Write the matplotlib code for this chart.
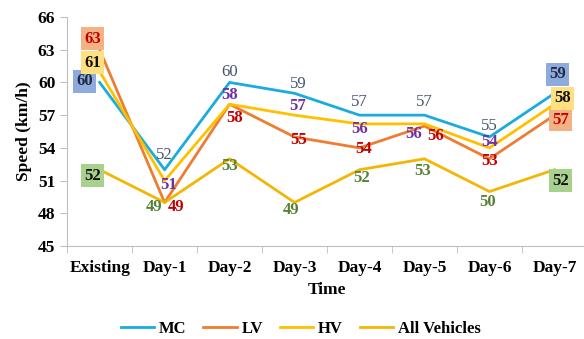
import numpy as np
import matplotlib.pyplot as plt

plt.rcParams['font.family'] = ['Liberation Serif', 'DejaVu Serif']

days = ['Existing', 'Day-1', 'Day-2', 'Day-3', 'Day-4', 'Day-5', 'Day-6', 'Day-7']
mc = [60, 52, 60, 59, 57, 57, 55, 59]
lv = [63, 49, 58, 55, 54, 56, 53, 57]
hv = [61, 51, 58, 57, 56.2, 56.2, 54, 58]
hv_lbl = [61, 51, 58, 57, 56, 56, 54, 58]
allv = [52, 49, 53, 49, 52, 53, 50, 52]

# label offsets in pixels (dx, dy)
off_mc = [(-15, 1), (0, 15), (0, 10), (4, 9), (0, 13), (0, 13), (0, 11), (3, 19)]
off_lv = [(-7, 11), (11, -5), (5, -14), (4, -3), (4, -1), (11, -10), (0, -2), (6, -5)]
off_hv = [(-7, 9), (4, -4), (0, 9), (3, 9), (0, -5), (-11, -10), (0, 6), (8, 6)]
off_av = [(-7, -6), (-11, -5), (0, -7), (-3, -8), (2, -8), (-2, -12), (-2, -10), (6, -11)]

fig = plt.figure(figsize=(5.84, 3.39), dpi=100)
ax = fig.add_axes([0.115, 0.274, 0.89, 0.676])
x = np.arange(len(days))

series = [
    ('MC', mc, mc, '#1AACDC', off_mc, '#44546A', 'normal', '#8FAADC', '#1F2A44'),
    ('LV', lv, lv, '#ED7D31', off_lv, '#C00000', 'bold', '#F4B183', '#C00000'),
    ('HV', hv, hv_lbl, '#FFC000', off_hv, '#7030A0', 'bold', '#FFE080', '#111111'),
    ('All Vehicles', allv, allv, '#F2B705', off_av, '#548235', 'bold', '#A9D18E', '#111111'),
]

for name, vals, lbls, col, offs, tcol, tw, boxcol, boxtxt in series:
    ax.plot(x, vals, color=col, lw=2, label=name)
    for i, (v, l) in enumerate(zip(vals, lbls)):
        dx, dy = offs[i]
        if i in (0, len(vals) - 1):
            ax.annotate(str(l), (x[i], v), xytext=(dx, dy), textcoords='offset pixels',
                        ha='center', va='center', fontsize=12, fontweight='bold',
                        color=boxtxt,
                        bbox=dict(boxstyle='square,pad=0.2', fc=boxcol, ec='none'))
        else:
            ax.annotate(str(l), (x[i], v), xytext=(dx, dy), textcoords='offset pixels',
                        ha='center', va='center', fontsize=12, fontweight=tw,
                        color=tcol)

ax.set_xlim(-0.5, 7.5)
ax.set_ylim(45, 66)
ax.set_yticks(np.arange(45, 67, 3))
ax.set_xticks(x)
ax.set_xticklabels(days)
ax.set_xticks(np.arange(-0.5, 8, 1), minor=True)
ax.tick_params(axis='x', which='major', length=0, pad=10)
ax.tick_params(axis='x', which='minor', length=5, color='#BFBFBF')
ax.tick_params(axis='y', length=5, color='#BFBFBF')
for lab in ax.get_xticklabels() + ax.get_yticklabels():
    lab.set_fontweight('bold')
    lab.set_fontsize(12.5)
for s in ['top', 'right']:
    ax.spines[s].set_visible(False)
for s in ['left', 'bottom']:
    ax.spines[s].set_color('#BFBFBF')

ax.set_xlabel('Time', fontsize=12.5, fontweight='bold', labelpad=4)
ax.set_ylabel('Speed (km/h)', fontsize=12.5, fontweight='bold', labelpad=4)

fig.legend(loc='center', bbox_to_anchor=(0.515, 0.03), ncol=4, frameon=False,
           prop={'weight': 'bold', 'size': 12}, handlelength=2.0, columnspacing=1.0,
           handletextpad=0.3, borderpad=0)

fig.savefig('out.png', dpi=100)
